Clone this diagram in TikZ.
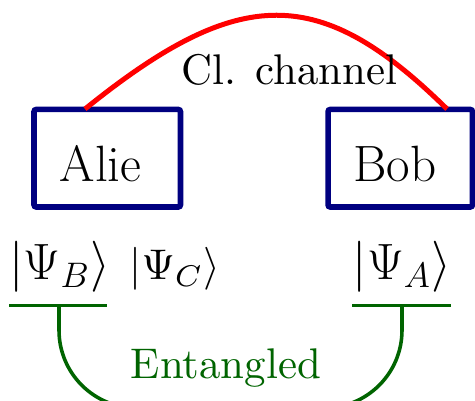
\documentclass[tikz,border=0pt]{standalone}
\definecolor{boxblue}{RGB}{0,0,128}
\definecolor{entgreen}{RGB}{0,100,0}
\begin{document}
\begin{tikzpicture}[x=0.45pt,y=-0.45pt,
  party/.style={draw=boxblue,line width=2.5pt,rounded corners=1pt,minimum height=43.9pt,inner sep=0pt},
  bigtext/.style={anchor=base,inner sep=0pt,font=\LARGE,scale=1.33},
  midtext/.style={anchor=base,inner sep=0pt,font=\normalsize,scale=1.93},
  greenline/.style={draw=entgreen,line width=1.6pt}]
\useasboundingbox (0,0) rectangle (475,401);
\clip (0,0) rectangle (475,401);
% boxes
\node[party,minimum width=65.9pt] (alie) at (107.25,158.25) {};
\node[party,minimum width=65pt] (bob) at (400.25,158.25) {};
\node[bigtext] (alietext) at (100.5,182) {Alie};
\node[bigtext] (bobtext) at (394.7,182) {Bob};
% classical channel
\coordinate (cs) at (85,109);
\coordinate (ce) at (447,109);
\draw[red,line width=2.25pt] (cs) .. controls (240,-16) and (320,-16) .. (ce);
\node[midtext] (cl) at (289.5,85) {Cl. channel};
% states
\node[bigtext] (psib) at (60,280) {$|\Psi_B\rangle$};
\node[midtext] (psic) at (175,280) {$|\Psi_C\rangle$};
\node[bigtext] (psia) at (402,280) {$|\Psi_A\rangle$};
% underlines
\coordinate (b1) at (9,305.5);
\coordinate (b2) at (107,305.5);
\coordinate (a1) at (352,305.5);
\coordinate (a2) at (451,305.5);
\coordinate (bm) at (59,305.5);
\coordinate (am) at (402,305.5);
\draw[greenline] (b1) -- (b2);
\draw[greenline] (a1) -- (a2);
\draw[greenline,rounded corners=35pt] (bm) -- (59,408) -- (402,408) -- (am);
\node[midtext,text=entgreen] (ent) at (226,379) {Entangled};
\end{tikzpicture}
\end{document}
